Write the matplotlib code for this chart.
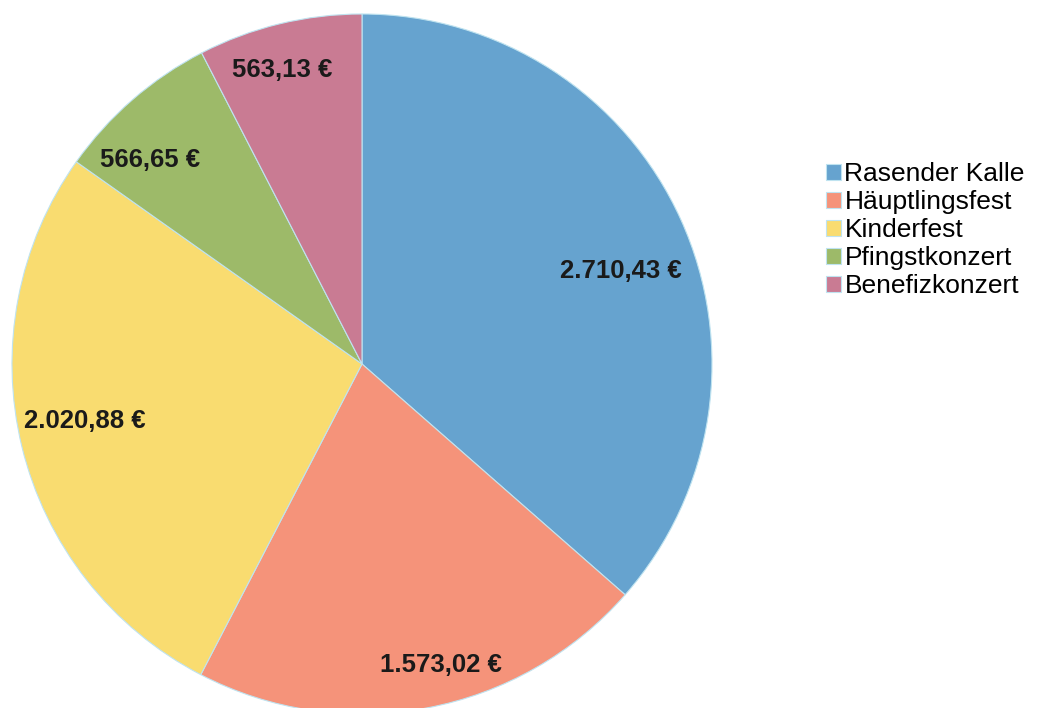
import matplotlib
matplotlib.use('agg')
import matplotlib.pyplot as plt
import numpy as np

labels = ['Rasender Kalle', 'Häuptlingsfest', 'Kinderfest', 'Pfingstkonzert', 'Benefizkonzert']
values = [2710.43, 1573.02, 2020.88, 566.65, 563.13]
colors = ['#66a3cf', '#f5937a', '#f9dc70', '#9dba69', '#c97b93']
# placement of each value label: fraction of radius and angle shift from mid-slice
label_dist = [0.785, 0.89, 0.81, 0.84, 0.87]
label_shift = [-4.5, 4.0, -2.0, 5.0, 1.6]


def euro(v):
  s = f'{v:,.2f}'.replace(',', 'X').replace('.', ',').replace('X', '.')
  return s + ' €'


plt.rcParams['font.family'] = ['Liberation Sans', 'DejaVu Sans']

fig = plt.figure(figsize=(10.39, 7.08), dpi=100)
ax = fig.add_axes([0, 0, 1, 1])

wedges, _ = ax.pie(values, colors=colors, startangle=90, counterclock=False,
                   center=(362, 344), radius=350, frame=True,
                   wedgeprops=dict(linewidth=0.8, edgecolor='#bfe3f0'))
ax.set_xlim(0, 1039)
ax.set_ylim(0, 708)
ax.set_aspect('equal')
ax.axis('off')

for w, v, d, s in zip(wedges, values, label_dist, label_shift):
  ang = np.deg2rad((w.theta1 + w.theta2) / 2 + s)
  x = w.center[0] + d * w.r * np.cos(ang)
  y = w.center[1] + d * w.r * np.sin(ang)
  ax.text(x, y, euro(v), ha='center', va='center', fontsize=18.5,
          fontweight='bold', color='#1a1a1a')

ax.legend(wedges, labels, loc='upper left', bbox_to_anchor=(0.795, 0.771),
          frameon=False, fontsize=19, labelspacing=0.15, handlelength=0.55,
          handleheight=0.55, handletextpad=0.15, borderpad=0, borderaxespad=0)

fig.savefig('out.png', dpi=100)
